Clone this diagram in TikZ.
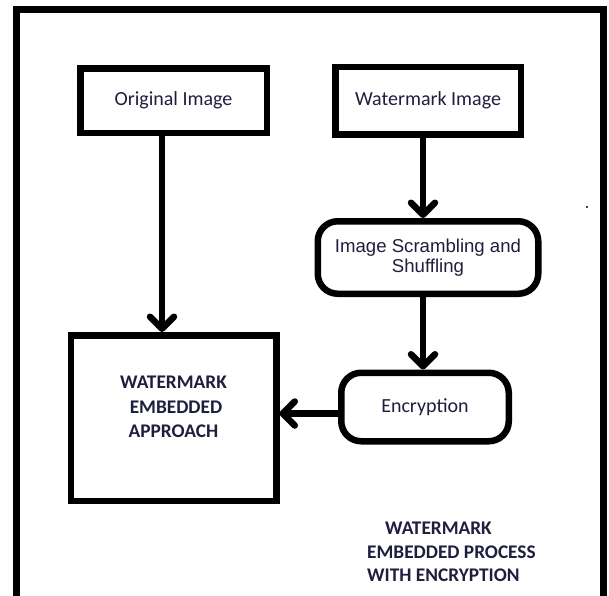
\documentclass[tikz,border=0pt]{standalone}
\usepackage{fontspec}
\setmainfont{Carlito}
\newfontfamily\arialfont{Liberation Sans}
\usetikzlibrary{positioning,arrows.meta}
\definecolor{inkblue}{RGB}{30,30,62}

\begin{document}
\begin{tikzpicture}[
    x=1pt, y=-1pt,
    node distance=62pt and 62pt,
    >={Straight Barb[length=12pt, width=24pt, round]},
    line/.style={->, line width=6.5pt},
    outerframe/.style={line width=6.5pt},
    imgbox/.style={
        draw, line width=6.5pt,
        text=inkblue,
        font=\fontsize{20}{24}\selectfont,
        inner sep=0pt
    },
    roundbox/.style={
        imgbox,
        rounded corners=20pt,
        align=center
    },
    boldtxt/.style={
        text=inkblue,
        align=center,
        inner sep=0pt,
        font=\fontsize{19.3}{24.5}\selectfont\bfseries
    }
]
\useasboundingbox (0,0) rectangle (609,595);

% Frame
\draw[outerframe] (16.5,600) |- (603.5,9.5) -- (603.5,600);
\fill (587,207) circle (1.2pt);

% Inputs
\node[imgbox, minimum width=186.5pt, minimum height=64.5pt] (origImg) at (173.5,100.5) {Original Image};
\node[imgbox, minimum width=185.5pt, minimum height=67.5pt, right=of origImg] (wmImg) {Watermark Image};

% Watermark chain
\node[roundbox, minimum width=220.5pt, minimum height=72.5pt,
      font=\arialfont\fontsize{18.6}{19.5}\selectfont,
      below=80.5pt of wmImg] (scramble) {Image Scrambling and\\Shuffling};
\node[roundbox, minimum width=167.5pt, minimum height=68.5pt,
      below=72.5pt of scramble, xshift=-3pt] (encrypt) {Encryption};

% Embedding box
\node[imgbox, minimum width=205.5pt, minimum height=165.5pt, below=196pt of origImg,
      label={[boldtxt, yshift=11pt]center:WATERMARK\\\hspace*{5pt}EMBEDDED\\APPROACH}] (embed) {};

% Arrows
\draw[line] ([xshift=-11.5pt]origImg.south) -- ([xshift=-11.5pt]origImg.south |- embed.north);
\draw[line] ([xshift=-5pt]wmImg.south)      -- ([xshift=-5pt]wmImg.south |- scramble.north);
\draw[line] ([xshift=-5pt]scramble.south)   -- ([xshift=-5pt]scramble.south |- encrypt.north);
\draw[line] ([yshift=-6.5pt]encrypt.west)   -- ([yshift=-6.5pt]encrypt.west -| embed.east);

% Caption
\node[boldtxt, align=left, anchor=north west, font=\fontsize{19.3}{23.5}\selectfont\bfseries]
  (caption) at (367,522) {\hspace*{18pt}WATERMARK\\EMBEDDED PROCESS\\WITH ENCRYPTION};

\end{tikzpicture}
\end{document}
